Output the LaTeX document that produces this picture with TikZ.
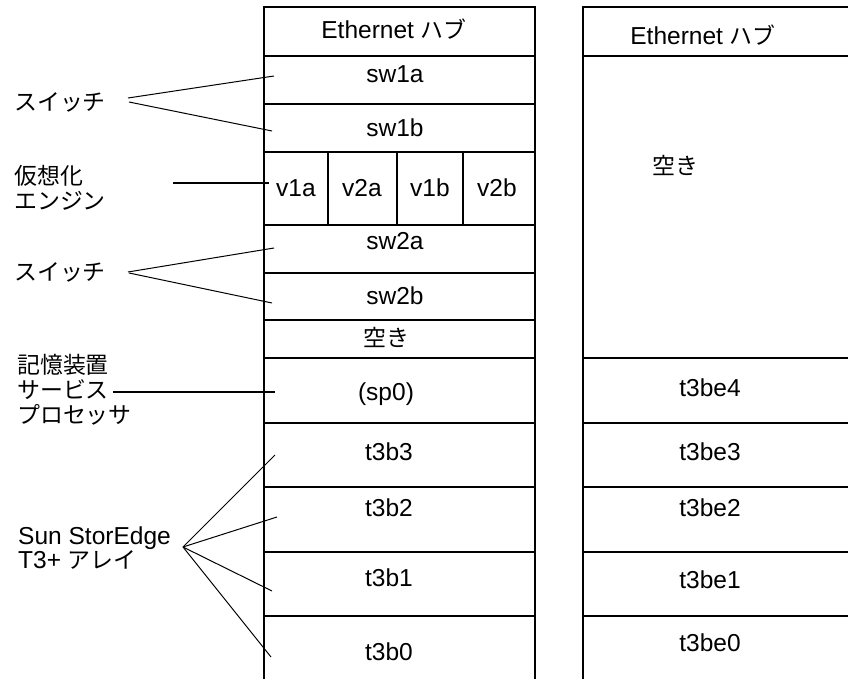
\documentclass[tikz,border=0pt]{standalone}
\usepackage{fontspec}
\setmainfont{Liberation Sans}[Scale=1.07]
\newfontfamily\jp{Noto Sans CJK JP}
\usetikzlibrary{positioning}

\begin{document}
\begin{tikzpicture}[
    x=1bp, y=-1bp,
    frame/.style={line width=2bp},
    lead/.style={line width=1bp},
    leadthick/.style={line width=2bp},
    cell/.style={font=\fontsize{23}{25}\selectfont, inner sep=0pt, anchor=base},
    lbl/.style={font=\fontsize{23}{25}\selectfont, inner sep=0pt, align=left, anchor=west}
]
\useasboundingbox (0,0) rectangle (848,679);

% left rack
\draw[frame] (264,679) -- (264,7) -- (535,7) -- (535,679);
\foreach \y in {56,104,152,225,273,320,358,423,487,552,616}
    \draw[frame] (264,\y) -- (535,\y);
\foreach \x in {328,397,463}
    \draw[frame] (\x,152) -- (\x,225);

% right rack
\draw[frame] (583,679) -- (583,7) -- (850,7);
\foreach \y in {56,358,423,487,552,616}
    \draw[frame] (583,\y) -- (850,\y);

% left rack contents
\node[cell] (hubL) at (394,39) {Ethernet {\jp ハブ}};
\node[cell] (sw1a) at (395,83) {sw1a};
\node[cell] (sw1b) at (395,137) {sw1b};
\node[cell] (v1a) at (296,196) {v1a};
\node[cell] (v2a) at (362,196) {v2a};
\node[cell] (v1b) at (430,196) {v1b};
\node[cell] (v2b) at (497,196) {v2b};
\node[cell] (sw2a) at (395,249) {sw2a};
\node[cell] (sw2b) at (395,304) {sw2b};
\node[cell] (freeL) at (386,346) {\jp 空き};
\node[cell] (sp0) at (386,400) {(sp0)};
\node[cell] (t3b3) at (389,460) {t3b3};
\node[cell] (t3b2) at (389,516) {t3b2};
\node[cell] (t3b1) at (389,586) {t3b1};
\node[cell] (t3b0) at (389,660) {t3b0};

% right rack contents
\node[cell] (hubR) at (703,45) {Ethernet {\jp ハブ}};
\node[cell] (freeR) at (675,174) {\jp 空き};
\node[cell] (t3be4) at (710,396) {t3be4};
\node[cell] (t3be3) at (710,460) {t3be3};
\node[cell] (t3be2) at (710,516) {t3be2};
\node[cell] (t3be1) at (710,588) {t3be1};
\node[cell] (t3be0) at (710,651) {t3be0};

% labels on the left
\node[lbl] (swlblA) at (14,102) {\jp スイッチ};
\node[lbl] (velbl) at (14,188) {\jp 仮想化\\\jp エンジン};
\node[lbl] (swlblB) at (14,272) {\jp スイッチ};
\node[lbl] (splbl) at (17,390) {\jp 記憶装置\\\jp サービス\\\jp プロセッサ};
\node[lbl] (t3lbl) at (18,548) {Sun StorEdge\\T3+ {\jp アレイ}};

% leader ends
\coordinate (swA1) at (128,98);
\coordinate (swA2) at (129,102);
\coordinate (swB1) at (128,272);
\coordinate (swB2) at (129,273);
\coordinate (veA) at (173,183);
\coordinate (spA) at (113,392);
\coordinate (fan) at (183,547);
\coordinate (tip1a) at (274,76);
\coordinate (tip1b) at (272,131);
\coordinate (tipv) at (269,183);
\coordinate (tip2a) at (274,248);
\coordinate (tip2b) at (272,303);
\coordinate (tipsp) at (275,392);
\coordinate (tipb3) at (275,455);
\coordinate (tipb2) at (277,517);
\coordinate (tipb1) at (272,591);
\coordinate (tipb0) at (271,657);

\draw[lead] (swA1) -- (tip1a);
\draw[lead] (swA2) -- (tip1b);
\draw[leadthick] (veA) -- (tipv);
\draw[lead] (swB1) -- (tip2a);
\draw[lead] (swB2) -- (tip2b);
\draw[leadthick] (spA) -- (tipsp);
\foreach \t in {tipb3,tipb2,tipb1,tipb0}
    \draw[lead] (fan) -- (\t);

\end{tikzpicture}
\end{document}
